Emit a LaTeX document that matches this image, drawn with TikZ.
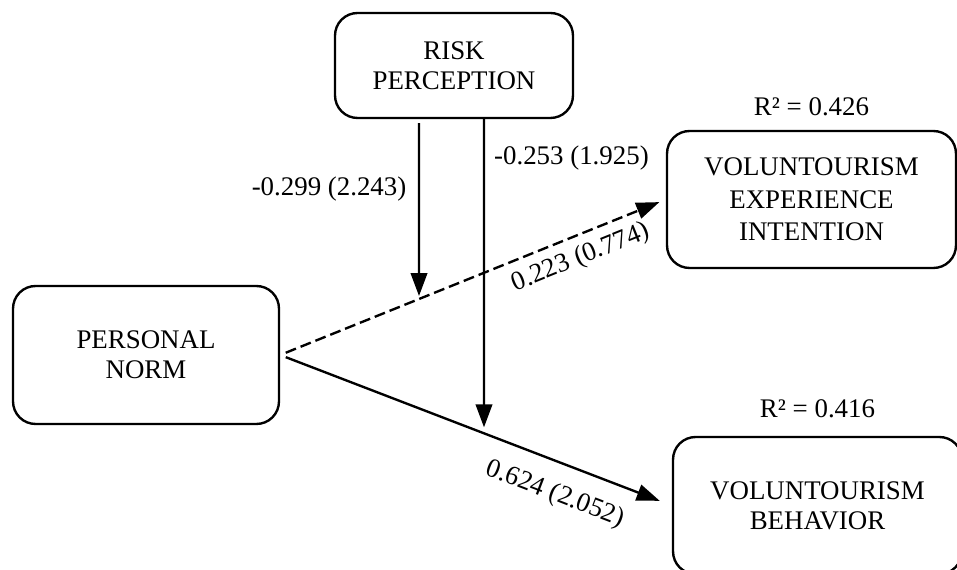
\documentclass[tikz,border=0pt]{standalone}
\usepackage{fontspec}
\setmainfont{Liberation Serif}
\usetikzlibrary{arrows.meta, positioning}

\begin{document}
\begin{tikzpicture}[
    x=0.02cm, y=-0.02cm,
    every node/.style={font=\fontsize{15.3pt}{17pt}\selectfont},
    construct/.style={draw, line width=1.35pt, rounded corners=0.45cm, align=center, inner sep=0pt},
    effect/.style={line width=1.35pt, -{Triangle[length=0.46cm, width=0.33cm]}},
    coef/.style={inner sep=0.18cm}
]

% Rahmen (Boxen rechts unten werden abgeschnitten)
\useasboundingbox (0,0) rectangle (957,570);
\clip (0,0) rectangle (957,570);

% ================================================================
% KONSTRUKTE
% ================================================================
\node[construct, minimum width=5.32cm, minimum height=2.76cm] (pn)
    at (146,355) {PERSONAL\\NORM};
\node[construct, minimum width=4.76cm, minimum height=2.1cm] (rp)
    at (454,65.5) {RISK\\PERCEPTION};
\node[construct, minimum width=5.78cm, minimum height=2.74cm,
      font=\fontsize{15.3pt}{18.5pt}\selectfont] (vei)
    at (811.5,199.5) {VOLUNTOURISM\\EXPERIENCE\\INTENTION};
\node[construct, minimum width=5.78cm, minimum height=2.74cm] (vb)
    at (817.5,505.5) {VOLUNTOURISM\\BEHAVIOR};

% Erklaerte Varianz
\node[coef, above=0.1cm of vei] (r2vei) {R² = 0.426};
\node[coef, above=0.18cm of vb] (r2vb) {R² = 0.416};

% ================================================================
% DIREKTE EFFEKTE
% ================================================================
\draw[effect, dash pattern=on 0.22cm off 0.1cm, shorten <=0.12cm, shorten >=0.14cm]
    (pn.east) -- (vei.west)
    node[coef, pos=0.758, sloped, below] (cvei) {0.223 (0.774)};
\draw[effect, shorten <=0.12cm, shorten >=0.26cm]
    (pn.east) -- (vb.west)
    node[coef, pos=0.731, sloped, below=0.18cm] (cvb) {0.624 (2.052)};

% ================================================================
% MODERATION (Risk Perception)
% ================================================================
\coordinate (colAtop) at (419,0);
\coordinate (colAbot) at (419,570);
\coordinate (colBtop) at (484,0);
\coordinate (colBbot) at (484,570);

% Treffpunkte auf den Pfaden
\coordinate (modA) at (intersection of pn.east--vei.west and colAtop--colAbot);
\coordinate (modB) at (intersection of pn.east--vb.west and colBtop--colBbot);

\draw[effect, shorten <=0.08cm, shorten >=0.06cm] (rp.south -| colAtop) -- (modA)
    node[coef, pos=0.387, left=0.05cm] (cmodA) {-0.299 (2.243)};
\draw[effect, shorten >=0.12cm] (rp.south -| colBtop) -- (modB)
    node[coef, pos=0.124, right] (cmodB) {-0.253 (1.925)};

\end{tikzpicture}
\end{document}
